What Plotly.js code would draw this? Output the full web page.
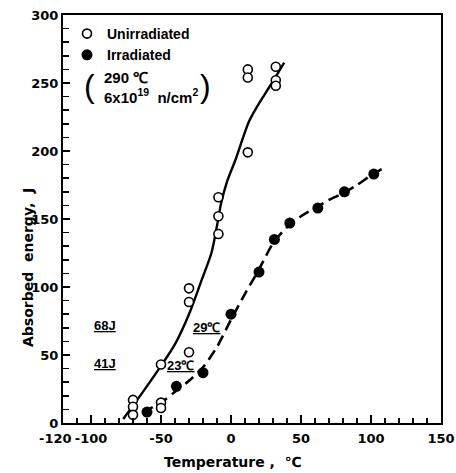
<!DOCTYPE html>
<html>
<head>
<meta charset="utf-8">
<script src="https://cdn.plot.ly/plotly-3.0.1.min.js"></script>
<style>html,body{margin:0;padding:0;background:#fff;}#chart{width:456px;height:473px;}</style>
</head>
<body>
<div id="chart"></div>
<script>
// Measured data points
const unirrTemp = [-70, -70, -70, -50, -50, -50, -30, -30, -30, -9, -9, -9, 12, 12, 12, 32, 32, 32];
const unirrEnergy = [17, 12, 6, 43, 15, 11, 99, 89, 52, 166, 152, 139, 199, 260, 254, 262, 252, 248];
const irrTemp = [-60, -39, -20, 0, 20, 31, 42, 62, 81, 102];
const irrEnergy = [8, 27, 37, 80, 111, 135, 147, 158, 170, 183];

// Fitted curves
const unirrCurveTemp = [-77, -67, -50, -40, -30, -21, -14, -10, -7, -3, 3, 13, 20, 28, 38];
const unirrCurveEnergy = [3, 17, 42, 58, 80, 105, 125, 145, 162, 177, 193, 222, 235, 248, 265];
const irrCurveTemp = [-63, -50, -40, -30, -20, -10, 0, 10, 20, 30, 40, 50, 60, 70, 80, 90, 100, 110];
const irrCurveEnergy = [8, 15, 23, 31, 41, 56, 76, 95, 113, 132, 144, 152, 158, 164, 169, 175, 182, 188];

// Tick labels
const xTickVals = [-100, -50, 0, 50, 100, 150];
const xTickText = ['-100', '-50', '0', '50', '100', '150'];
const xFirstLabel = '-120';
const yTickVals = [0, 50, 100, 150, 200, 250, 300];

const tickFont = {family: 'DejaVu Sans', size: 13, color: '#000', weight: 'bold'};
const titleFont = {family: 'DejaVu Sans', size: 14, color: '#000', weight: 'bold'};
const txtFont = {family: 'Liberation Sans', size: 15, color: '#000', weight: 'bold'};
const smallFont = {family: 'Liberation Sans', size: 13, color: '#000', weight: 'bold'};

const traces = [
  {x: unirrCurveTemp, y: unirrCurveEnergy, mode: 'lines', line: {color: '#000', width: 2.4, shape: 'spline', smoothing: 0.8}, showlegend: false, hoverinfo: 'skip'},
  {x: irrCurveTemp, y: irrCurveEnergy, mode: 'lines', line: {color: '#000', width: 2.6, dash: '11px,6px', shape: 'spline', smoothing: 0.8}, showlegend: false, hoverinfo: 'skip'},
  {x: unirrTemp, y: unirrEnergy, mode: 'markers', name: 'Unirradiated',
   marker: {symbol: 'circle', size: 9, color: '#fff', line: {color: '#000', width: 1.6}}},
  {x: irrTemp, y: irrEnergy, mode: 'markers', name: 'Irradiated',
   marker: {symbol: 'circle', size: 11, color: '#000', line: {color: '#000', width: 0}}}
];

function px(xp) { return (xp - 63) / 378; }
function py(yp) { return (423 - yp) / 408; }
function note(x, y, text, font, extra) {
  return Object.assign({xref: 'paper', yref: 'paper', x: px(x), y: py(y), text: text, showarrow: false,
    xanchor: 'center', yanchor: 'middle', font: font}, extra || {});
}

const layout = {
  width: 456, height: 473,
  margin: {l: 63, r: 15, t: 15, b: 50, pad: 0},
  paper_bgcolor: '#fff', plot_bgcolor: '#fff',
  showlegend: true,
  legend: {x: px(67), y: py(18), xanchor: 'left', yanchor: 'top', bgcolor: 'rgba(0,0,0,0)',
           font: {family: 'Liberation Sans', size: 14, color: '#000', weight: 'bold'}, itemwidth: 30, tracegroupgap: 0},
  xaxis: {range: [-120, 150], showgrid: false, zeroline: false, showline: true, linecolor: '#000', linewidth: 2,
          mirror: true, ticks: 'inside', ticklen: 8, tickwidth: 1.5, tickcolor: '#000',
          tickmode: 'array', tickvals: xTickVals, ticktext: xTickText, tickangle: 0, tickfont: tickFont,
          ticklabelstandoff: 2,
          minor: {tickmode: 'linear', tick0: 0, dtick: 10, ticks: 'inside', ticklen: 5, tickwidth: 1.5, tickcolor: '#000', showgrid: false}},
  yaxis: {range: [0, 300], showgrid: false, zeroline: false, showline: true, linecolor: '#000', linewidth: 2,
          mirror: true, ticks: 'inside', ticklen: 7, tickwidth: 1.5, tickcolor: '#000',
          tickmode: 'array', tickvals: yTickVals, tickfont: tickFont,
          minor: {tickmode: 'linear', tick0: 0, dtick: 10, ticks: 'inside', ticklen: 6, tickwidth: 1.5, tickcolor: '#000', showgrid: false}},
  annotations: [
    note(55, 438, xFirstLabel, tickFont),
    note(28, 268, 'Absorbed  energy,  J', titleFont, {textangle: -90}),
    note(233, 462, 'Temperature ,  ℃', titleFont),
    note(89, 86, '(', {family: 'Liberation Sans', size: 32, color: '#000'}),
    note(102, 87, '290 ℃<br>6x10<sup>19</sup>  n/cm<sup>2</sup>', txtFont, {xanchor: 'left', align: 'left'}),
    note(205, 86, ')', {family: 'Liberation Sans', size: 32, color: '#000'}),
    note(105, 325, '<u>68J</u>', smallFont),
    note(105, 363, '<u>41J</u>', smallFont),
    note(206, 327, '<u>29℃</u>', smallFont),
    note(180, 365, '<u>23℃</u>', smallFont)
  ]
};

Plotly.newPlot('chart', traces, layout, {displayModeBar: false, staticPlot: true});
</script>
</body>
</html>
